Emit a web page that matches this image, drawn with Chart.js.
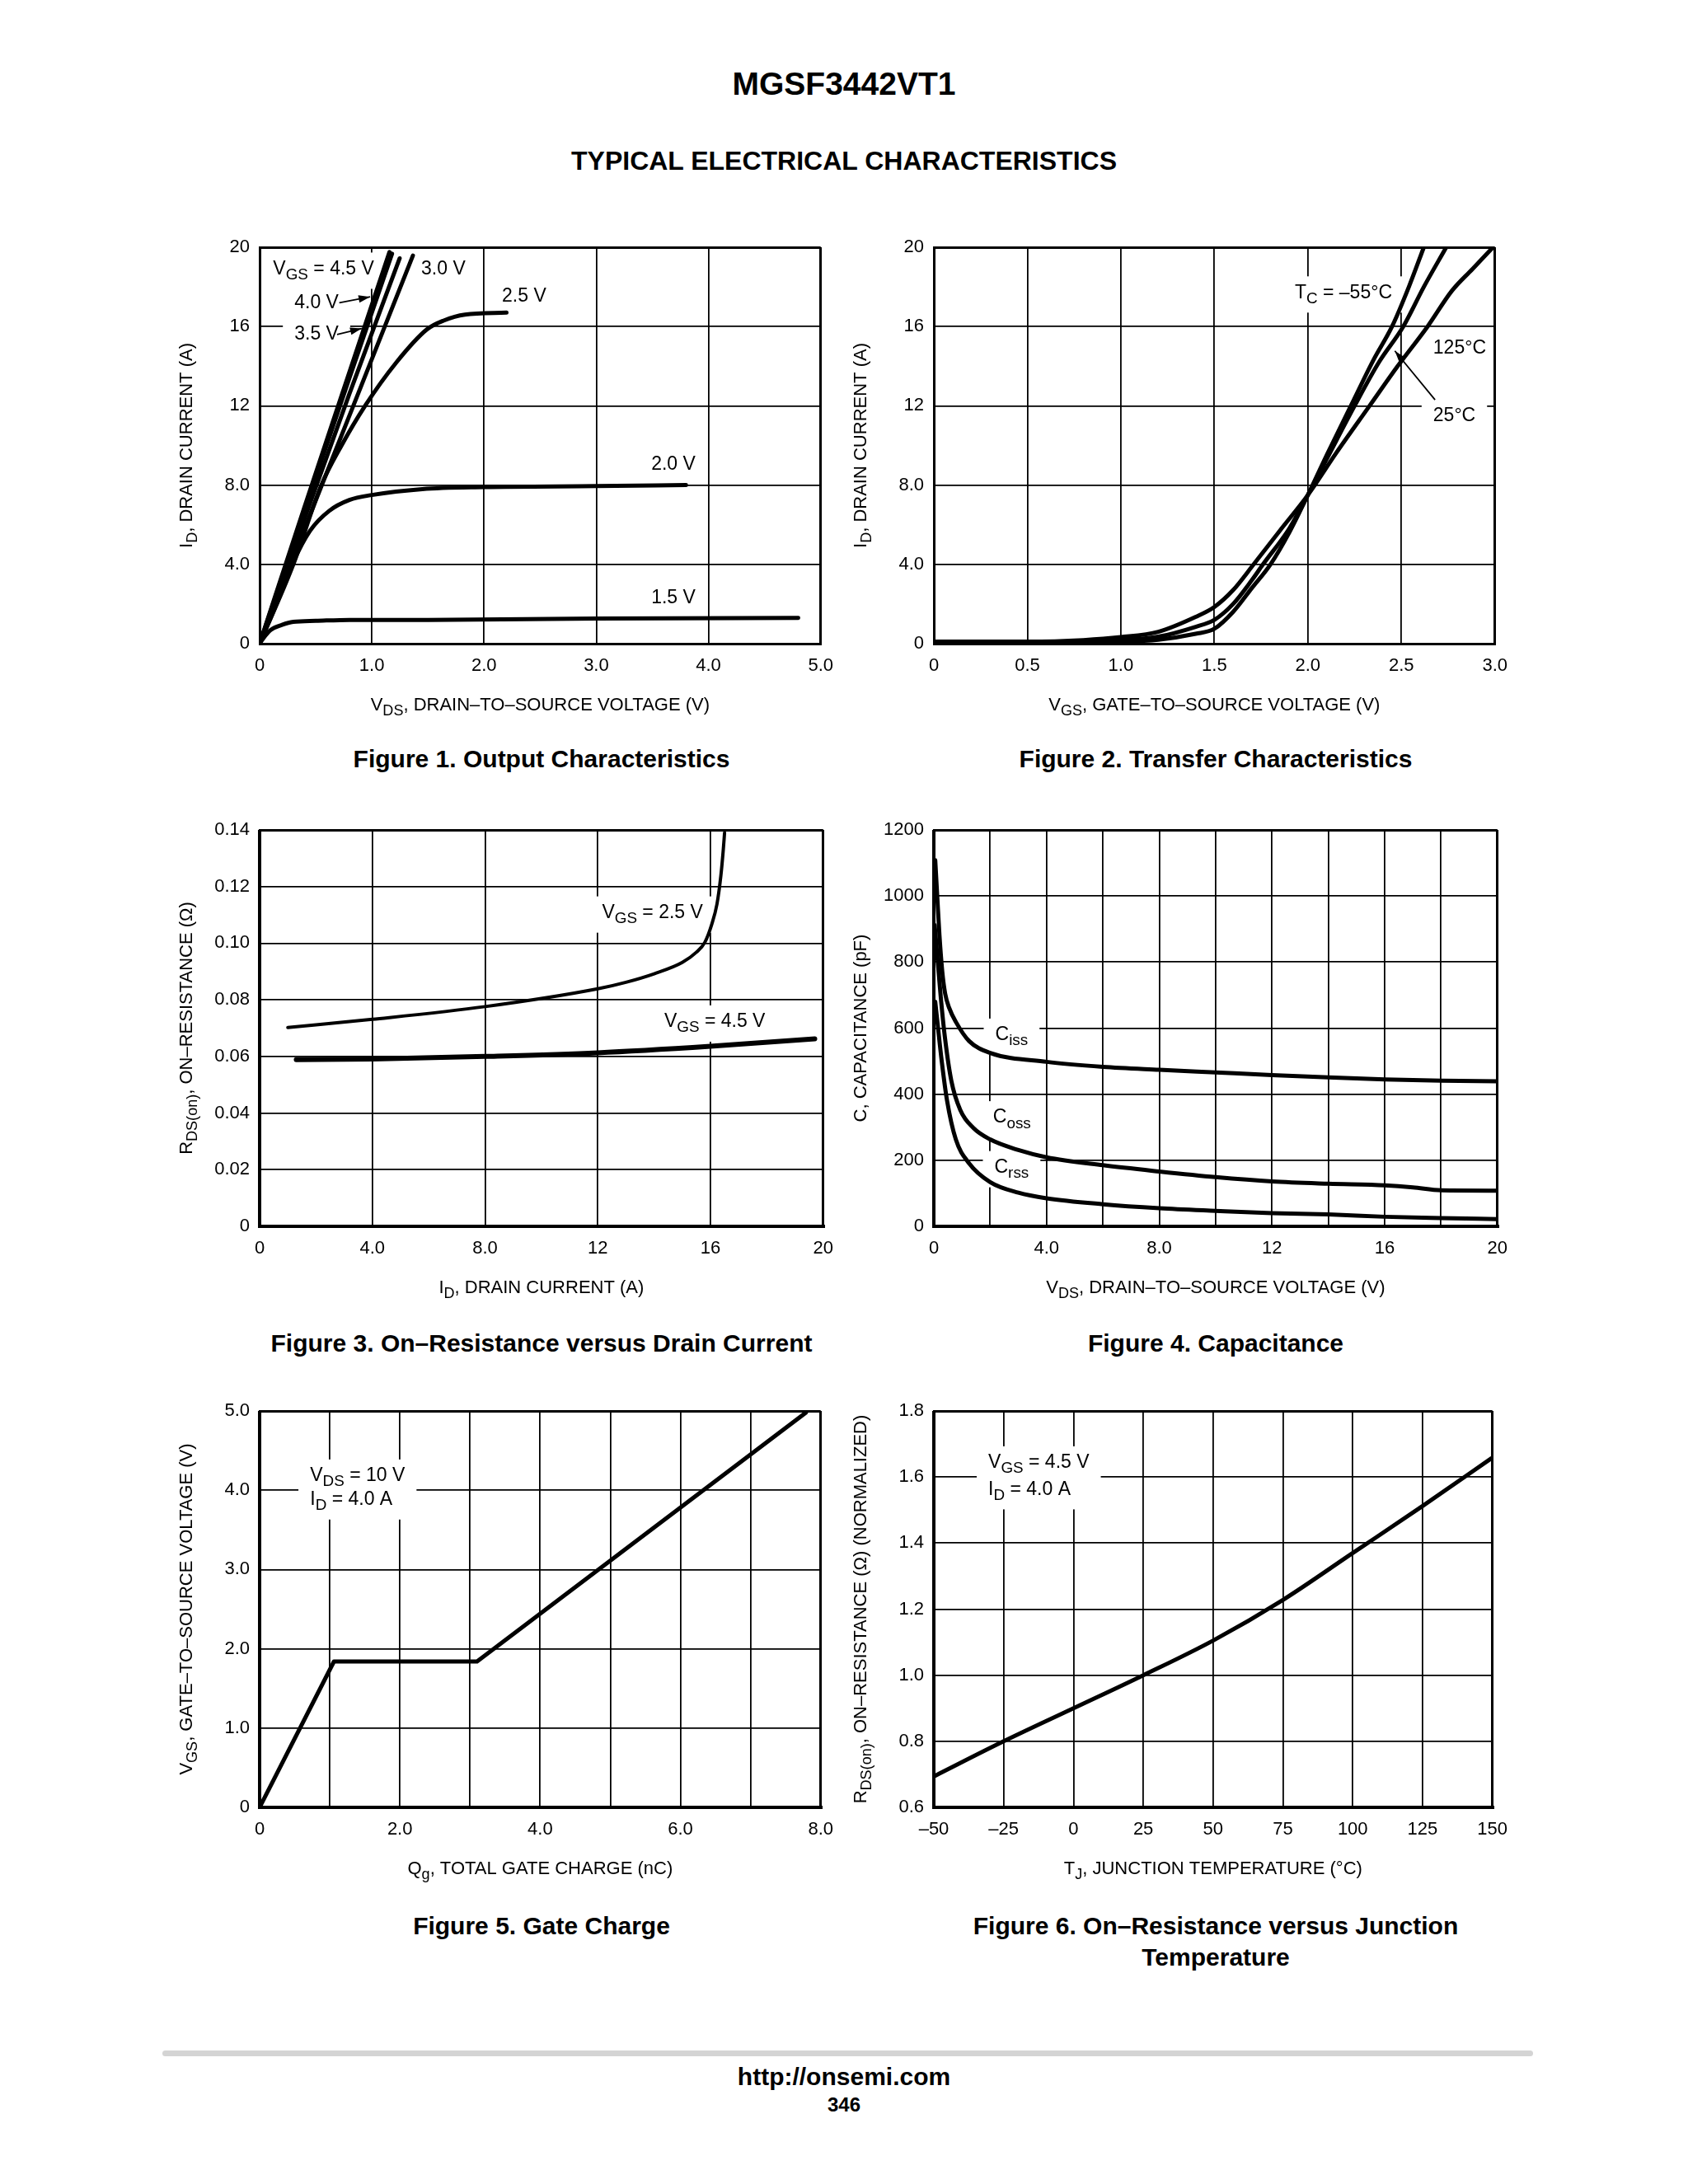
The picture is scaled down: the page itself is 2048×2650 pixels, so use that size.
<!DOCTYPE html>
<html>
<head>
<meta charset="utf-8">
<title>MGSF3442VT1 Typical Electrical Characteristics</title>
<script src="https://cdn.jsdelivr.net/npm/chart.js@4.4.1/dist/chart.umd.min.js"></script>
<style>
  body { margin: 0; background: #fff; }
  #page { position: relative; width: 2048px; height: 2650px; background: #fff; color: #000;
          font-family: "Liberation Sans", Arial, Helvetica, sans-serif; }
  .head { position: absolute; left: 0; width: 2048px; text-align: center; font-weight: bold; }
  .cap { position: absolute; width: 900px; text-align: center; font-weight: bold;
         font-size: 30px; line-height: 38px; }
  canvas { position: absolute; }
  #rule { position: absolute; left: 197px; top: 2488px; width: 1663px; height: 7px;
          background: #d4d4d4; border-radius: 4px; }
</style>
</head>
<body>
<div id="page">
  <div class="head" style="top:82px;font-size:39px;line-height:39px;">MGSF3442VT1</div>
  <div class="head" style="top:179px;font-size:32px;line-height:32px;">TYPICAL ELECTRICAL CHARACTERISTICS</div>

  <canvas id="fig1" width="850" height="640" style="left:175px;top:250px;"></canvas>
  <canvas id="fig2" width="850" height="640" style="left:993px;top:250px;"></canvas>
  <canvas id="fig3" width="850" height="640" style="left:175px;top:957px;"></canvas>
  <canvas id="fig4" width="850" height="640" style="left:993px;top:957px;"></canvas>
  <canvas id="fig5" width="850" height="640" style="left:175px;top:1662px;"></canvas>
  <canvas id="fig6" width="850" height="640" style="left:993px;top:1662px;"></canvas>

  <div class="cap" style="left:207px;top:902px;">Figure 1. Output Characteristics</div>
  <div class="cap" style="left:1025px;top:902px;">Figure 2. Transfer Characteristics</div>
  <div class="cap" style="left:207px;top:1611px;">Figure 3. On&#8211;Resistance versus Drain Current</div>
  <div class="cap" style="left:1025px;top:1611px;">Figure 4. Capacitance</div>
  <div class="cap" style="left:207px;top:2318px;">Figure 5. Gate Charge</div>
  <div class="cap" style="left:1025px;top:2318px;">Figure 6. On&#8211;Resistance versus Junction<br>Temperature</div>

  <div id="rule"></div>
  <div class="head" style="top:2505px;font-size:30px;line-height:30px;">http://onsemi.com</div>
  <div class="head" style="top:2542px;font-size:24px;line-height:24px;">346</div>
</div>

<script>
// ---- Figure 1: output characteristics, [VDS, ID] per VGS ----
var vgs45 = [[0, 0], [0.4, 6.9], [0.8, 13.7], [1.157, 19.76]];
var vgs40 = [[0, 0], [0.4, 6.7], [0.8, 13.4], [1.18, 19.67]];
var vgs35 = [[0, 0], [0.4, 6.3], [0.8, 12.6], [1.248, 19.44]];
var vgs30 = [[0, 0], [0.4, 5.8], [0.8, 11.5], [1.366, 19.58]];
var vgs25 = [[0, 0], [0.3, 4.0], [0.55, 8.0], [0.73, 10.0], [0.94, 12.0], [1.22, 14.2],
             [1.49, 15.85], [1.64, 16.3], [1.83, 16.6], [2.2, 16.7]];
var vgs20 = [[0, 0], [0.15, 2.0], [0.29, 4.0], [0.45, 5.7], [0.62, 6.7], [0.8, 7.25],
             [1.0, 7.5], [1.45, 7.8], [2.0, 7.9], [3.0, 7.95], [3.8, 8.0]];
var vgs15 = [[0, 0], [0.05, 0.4], [0.1, 0.7], [0.2, 0.95], [0.3, 1.1], [0.5, 1.15],
             [0.8, 1.2], [1.5, 1.2], [3.0, 1.27], [4.8, 1.3]];
var f1XTicks = [0, 1, 2, 3, 4, 5];
var f1XLabels = ["0", "1.0", "2.0", "3.0", "4.0", "5.0"];
var f1YTicks = [0, 4, 8, 12, 16, 20];
var f1YLabels = ["0", "4.0", "8.0", "12", "16", "20"];

// ---- Figure 2: transfer characteristics, [VGS, ID] per case temperature ----
var tcM55 = [[0, 0.05], [0.5, 0.05], [0.8, 0.08], [1.0, 0.1], [1.2, 0.2], [1.4, 0.5], [1.5, 0.75],
             [1.6, 1.6], [1.7, 2.8], [1.8, 4.0], [1.9, 5.6], [2.0, 7.5], [2.1, 9.5], [2.23, 12],
             [2.35, 14.3], [2.45, 16], [2.54, 18], [2.62, 20]];
var tc25 = [[0, 0.05], [0.5, 0.05], [0.8, 0.1], [1.0, 0.18], [1.2, 0.35], [1.4, 0.85], [1.5, 1.2],
            [1.6, 2.0], [1.7, 3.2], [1.76, 4.0], [1.9, 5.8], [2.0, 7.5], [2.1, 9.3], [2.25, 12],
            [2.38, 14.2], [2.51, 16], [2.62, 18], [2.74, 20]];
var tc125 = [[0, 0.1], [0.5, 0.1], [0.8, 0.18], [1.0, 0.33], [1.2, 0.6], [1.4, 1.35], [1.5, 1.85],
             [1.6, 2.7], [1.71, 4.0], [1.85, 5.7], [2.0, 7.5], [2.15, 9.6], [2.33, 12], [2.48, 14],
             [2.64, 16], [2.77, 17.8], [2.88, 18.9], [2.99, 20]];
var f2XTicks = [0, 0.5, 1, 1.5, 2, 2.5, 3];
var f2XLabels = ["0", "0.5", "1.0", "1.5", "2.0", "2.5", "3.0"];
var f2YTicks = [0, 4, 8, 12, 16, 20];
var f2YLabels = ["0", "4.0", "8.0", "12", "16", "20"];

// ---- Figure 3: on-resistance vs drain current, [ID, RDS(on)] ----
var rds25 = [[1.0, 0.0702], [4.0, 0.0731], [8.0, 0.0776], [12.0, 0.0839], [13.0, 0.0862],
             [14.0, 0.0892], [15.0, 0.0932], [15.5, 0.0968], [15.8, 0.1003], [16.04, 0.1065],
             [16.23, 0.1138], [16.37, 0.124], [16.45, 0.1325], [16.5, 0.139]];
var rds45 = [[1.3, 0.0589], [4.0, 0.0591], [8.0, 0.060], [12.0, 0.0613], [16.0, 0.0636], [19.7, 0.0662]];
var f3XTicks = [0, 4, 8, 12, 16, 20];
var f3XLabels = ["0", "4.0", "8.0", "12", "16", "20"];
var f3YTicks = [0, 0.02, 0.04, 0.06, 0.08, 0.10, 0.12, 0.14];
var f3YLabels = ["0", "0.02", "0.04", "0.06", "0.08", "0.10", "0.12", "0.14"];

// ---- Figure 4: capacitance, [VDS, C pF] ----
var ciss = [[0.05, 1108], [0.12, 1000], [0.2, 880], [0.3, 770], [0.4, 705], [0.55, 660], [0.78, 619],
            [1.25, 561], [2.0, 525], [4.0, 498], [6.0, 483], [8.0, 474], [10, 466], [12, 458],
            [14, 451], [16, 445], [18, 441], [20, 439]];
var coss = [[0.03, 912], [0.15, 790], [0.25, 690], [0.39, 574], [0.62, 441], [0.94, 352], [1.4, 298],
            [2.0, 263], [3.0, 231], [4.0, 209], [6.0, 185], [8.0, 166], [10, 149], [12, 136],
            [14, 129], [16, 124], [17, 118], [18, 109], [20, 108]];
var crss = [[0.05, 680], [0.15, 600], [0.28, 500], [0.47, 380], [0.78, 263], [1.25, 191], [2.0, 134],
            [3.0, 102], [4.0, 85], [6.0, 67], [8.0, 55], [10, 47], [12, 40], [14, 36], [16, 29],
            [18, 25], [20, 22]];
var f4XTicks = [0, 2, 4, 6, 8, 10, 12, 14, 16, 18, 20];
var f4XLabels = ["0", "", "4.0", "", "8.0", "", "12", "", "16", "", "20"];
var f4YTicks = [0, 200, 400, 600, 800, 1000, 1200];
var f4YLabels = ["0", "200", "400", "600", "800", "1000", "1200"];

// ---- Figure 5: gate charge, [Qg nC, VGS] ----
var gateCharge = [[0, 0], [1.06, 1.84], [3.1, 1.84], [7.79, 4.98]];
var f5XTicks = [0, 1, 2, 3, 4, 5, 6, 7, 8];
var f5XLabels = ["0", "", "2.0", "", "4.0", "", "6.0", "", "8.0"];
var f5YTicks = [0, 1, 2, 3, 4, 5];
var f5YLabels = ["0", "1.0", "2.0", "3.0", "4.0", "5.0"];

// ---- Figure 6: normalized on-resistance vs junction temperature, [TJ, R] ----
var rdsTemp = [[-49.7, 0.695], [-25, 0.8], [0, 0.9], [25, 1.0], [50, 1.105], [75, 1.228],
               [100, 1.37], [125, 1.512], [149.7, 1.657]];
var f6XTicks = [-50, -25, 0, 25, 50, 75, 100, 125, 150];
var f6XLabels = ["\u201350", "\u201325", "0", "25", "50", "75", "100", "125", "150"];
var f6YTicks = [0.6, 0.8, 1.0, 1.2, 1.4, 1.6, 1.8];
var f6YLabels = ["0.6", "0.8", "1.0", "1.2", "1.4", "1.6", "1.8"];

var SANS = '"Liberation Sans", Arial, Helvetica, sans-serif';

// text made of [string, isSubscript] pieces
function richWidth(ctx, parts, size) {
  var w = 0;
  parts.forEach(function (p) {
    ctx.font = (p[1] ? size * 0.82 : size) + "px " + SANS;
    w += ctx.measureText(p[0]).width;
  });
  return w;
}

function drawRich(ctx, parts, x, y, size, align) {
  var w = richWidth(ctx, parts, size);
  var cx = align === "center" ? x - w / 2 : x;
  ctx.fillStyle = "#000";
  ctx.textBaseline = "middle";
  ctx.textAlign = "left";
  parts.forEach(function (p) {
    ctx.font = (p[1] ? size * 0.82 : size) + "px " + SANS;
    ctx.fillText(p[0], cx, p[1] ? y + size * 0.32 : y);
    cx += ctx.measureText(p[0]).width;
  });
  return w;
}

function arrowHead(ctx, x1, y1, x2, y2, len, half) {
  var a = Math.atan2(y2 - y1, x2 - x1);
  ctx.beginPath();
  ctx.moveTo(x2, y2);
  ctx.lineTo(x2 - len * Math.cos(a) + half * Math.sin(a), y2 - len * Math.sin(a) - half * Math.cos(a));
  ctx.lineTo(x2 - len * Math.cos(a) - half * Math.sin(a), y2 - len * Math.sin(a) + half * Math.cos(a));
  ctx.closePath();
  ctx.fill();
}

var LABEL_SIZE = 23;

var sheetText = {
  id: "sheetText",
  beforeDatasetsDraw: function (chart, args, opts) {
    var ctx = chart.ctx, xs = chart.scales.x, ys = chart.scales.y;
    var notes = opts.notes || [];
    ctx.save();
    // white patches first, so that no patch hides the text of another note
    notes.forEach(function (n) {
      if (!n.box) { return; }
      var px = xs.getPixelForValue(n.x), py = ys.getPixelForValue(n.y);
      var w = richWidth(ctx, n.parts, LABEL_SIZE);
      ctx.fillStyle = "#fff";
      ctx.fillRect(px - 14, py - 20, w + 28, 44);
    });
    notes.forEach(function (n) {
      drawRich(ctx, n.parts, xs.getPixelForValue(n.x), ys.getPixelForValue(n.y), LABEL_SIZE, "left");
    });
    (opts.arrows || []).forEach(function (a) {
      var x1 = xs.getPixelForValue(a[0]), y1 = ys.getPixelForValue(a[1]);
      var x2 = xs.getPixelForValue(a[2]), y2 = ys.getPixelForValue(a[3]);
      ctx.strokeStyle = "#000";
      ctx.fillStyle = "#000";
      ctx.lineWidth = 1.8;
      ctx.beginPath();
      ctx.moveTo(x1, y1);
      ctx.lineTo(x2, y2);
      ctx.stroke();
      arrowHead(ctx, x1, y1, x2, y2, 14, 4.5);
    });
    ctx.restore();
  },
  afterDraw: function (chart, args, opts) {
    var ctx = chart.ctx, area = chart.chartArea;
    ctx.save();
    if (opts.xTitle) {
      drawRich(ctx, opts.xTitle, (area.left + area.right) / 2, area.bottom + 75, 22, "center");
    }
    if (opts.yTitle) {
      ctx.translate(area.left - 88, (area.top + area.bottom) / 2);
      ctx.rotate(-Math.PI / 2);
      drawRich(ctx, opts.yTitle, 0, 0, 22, "center");
    }
    ctx.restore();
  }
};
Chart.register(sheetText);

function axis(vals, labels, isX, thickEdge) {
  return {
    type: "linear",
    min: vals[0],
    max: vals[vals.length - 1],
    afterBuildTicks: function (s) { s.ticks = vals.map(function (v) { return { value: v }; }); },
    afterFit: function (s) { if (isX) { s.height = 60; } else { s.width = 100; } },
    ticks: {
      autoSkip: false, maxRotation: 0, padding: isX ? 14 : 12, color: "#000",
      font: { family: SANS, size: 22 },
      callback: function (v, i) { return labels[i]; }
    },
    grid: {
      color: "#000", drawTicks: false,
      lineWidth: function (c) {
        if (c.index === vals.length - 1) { return 3; }
        if (c.index === 0) { return thickEdge ? 4 : 3; }
        return 1.8;
      }
    },
    border: { display: true, color: "#000", width: thickEdge ? 4 : 3 }
  };
}

function makeChart(id, cfg) {
  var sets = cfg.series.map(function (s) {
    return {
      data: s.pts.map(function (p) { return { x: p[0], y: p[1] }; }),
      showLine: true, pointRadius: 0, borderColor: "#000", borderWidth: s.w || 5,
      borderCapStyle: "round", borderJoinStyle: "round", fill: false,
      cubicInterpolationMode: cfg.straight ? "default" : "monotone", tension: 0
    };
  });
  return new Chart(document.getElementById(id).getContext("2d"), {
    type: "scatter",
    data: { datasets: sets },
    options: {
      responsive: false, animation: false, events: [],
      layout: { padding: { left: 40, right: 25, top: 50, bottom: 49 } },
      scales: {
        x: axis(cfg.xt, cfg.xl, true, cfg.thick),
        y: axis(cfg.yt, cfg.yl, false, false)
      },
      plugins: {
        legend: { display: false }, tooltip: { enabled: false },
        sheetText: { xTitle: cfg.xTitle, yTitle: cfg.yTitle, notes: cfg.notes, arrows: cfg.arrows }
      }
    }
  });
}

var DASH = "\u2013";

makeChart("fig1", {
  xt: f1XTicks, xl: f1XLabels, yt: f1YTicks, yl: f1YLabels,
  series: [{ pts: vgs45 }, { pts: vgs40 }, { pts: vgs35 }, { pts: vgs30 },
           { pts: vgs25 }, { pts: vgs20 }, { pts: vgs15 }],
  xTitle: [["V"], ["DS", 1], [", DRAIN" + DASH + "TO" + DASH + "SOURCE VOLTAGE (V)"]],
  yTitle: [["I"], ["D", 1], [", DRAIN CURRENT (A)"]],
  notes: [
    { x: 0.12, y: 18.9, parts: [["V"], ["GS", 1], [" = 4.5 V"]], box: true },
    { x: 1.44, y: 18.9, parts: [["3.0 V"]] },
    { x: 2.16, y: 17.5, parts: [["2.5 V"]] },
    { x: 0.31, y: 17.2, parts: [["4.0 V"]], box: true },
    { x: 0.31, y: 15.6, parts: [["3.5 V"]], box: true },
    { x: 3.49, y: 9.04, parts: [["2.0 V"]] },
    { x: 3.49, y: 2.3, parts: [["1.5 V"]] }
  ],
  arrows: [[0.71, 17.2, 0.985, 17.5], [0.69, 15.6, 0.91, 15.9]]
});

makeChart("fig2", {
  xt: f2XTicks, xl: f2XLabels, yt: f2YTicks, yl: f2YLabels,
  series: [{ pts: tcM55 }, { pts: tc25 }, { pts: tc125 }],
  xTitle: [["V"], ["GS", 1], [", GATE" + DASH + "TO" + DASH + "SOURCE VOLTAGE (V)"]],
  yTitle: [["I"], ["D", 1], [", DRAIN CURRENT (A)"]],
  notes: [
    { x: 1.93, y: 17.7, parts: [["T"], ["C", 1], [" = " + DASH + "55\u00b0C"]], box: true },
    { x: 2.67, y: 14.9, parts: [["125\u00b0C"]] },
    { x: 2.67, y: 11.5, parts: [["25\u00b0C"]], box: true }
  ],
  arrows: [[2.68, 12.3, 2.465, 14.77]]
});

makeChart("fig3", {
  xt: f3XTicks, xl: f3XLabels, yt: f3YTicks, yl: f3YLabels, thick: true,
  series: [{ pts: rds25, w: 4 }, { pts: rds45, w: 6 }],
  xTitle: [["I"], ["D", 1], [", DRAIN CURRENT (A)"]],
  yTitle: [["R"], ["DS(on)", 1], [", ON" + DASH + "RESISTANCE (\u03a9)"]],
  notes: [
    { x: 12.15, y: 0.1107, parts: [["V"], ["GS", 1], [" = 2.5 V"]], box: true },
    { x: 14.36, y: 0.0722, parts: [["V"], ["GS", 1], [" = 4.5 V"]], box: true }
  ]
});

makeChart("fig4", {
  xt: f4XTicks, xl: f4XLabels, yt: f4YTicks, yl: f4YLabels, thick: true,
  series: [{ pts: ciss }, { pts: coss }, { pts: crss }],
  xTitle: [["V"], ["DS", 1], [", DRAIN" + DASH + "TO" + DASH + "SOURCE VOLTAGE (V)"]],
  yTitle: [["C, CAPACITANCE (pF)"]],
  notes: [
    { x: 2.18, y: 579, parts: [["C"], ["iss", 1]], box: true },
    { x: 2.1, y: 329, parts: [["C"], ["oss", 1]], box: true },
    { x: 2.15, y: 178, parts: [["C"], ["rss", 1]], box: true }
  ]
});

makeChart("fig5", {
  xt: f5XTicks, xl: f5XLabels, yt: f5YTicks, yl: f5YLabels, straight: true, thick: true,
  series: [{ pts: gateCharge }],
  xTitle: [["Q"], ["g", 1], [", TOTAL GATE CHARGE (nC)"]],
  yTitle: [["V"], ["GS", 1], [", GATE" + DASH + "TO" + DASH + "SOURCE VOLTAGE (V)"]],
  notes: [
    { x: 0.72, y: 4.18, parts: [["V"], ["DS", 1], [" = 10 V"]], box: true },
    { x: 0.72, y: 3.88, parts: [["I"], ["D", 1], [" = 4.0 A"]], box: true }
  ]
});

makeChart("fig6", {
  xt: f6XTicks, xl: f6XLabels, yt: f6YTicks, yl: f6YLabels, thick: true,
  series: [{ pts: rdsTemp }],
  xTitle: [["T"], ["J", 1], [", JUNCTION TEMPERATURE (\u00b0C)"]],
  yTitle: [["R"], ["DS(on)", 1], [", ON" + DASH + "RESISTANCE (\u03a9) (NORMALIZED)"]],
  notes: [
    { x: -30.5, y: 1.643, parts: [["V"], ["GS", 1], [" = 4.5 V"]], box: true },
    { x: -30.5, y: 1.562, parts: [["I"], ["D", 1], [" = 4.0 A"]], box: true }
  ]
});
</script>
</body>
</html>
